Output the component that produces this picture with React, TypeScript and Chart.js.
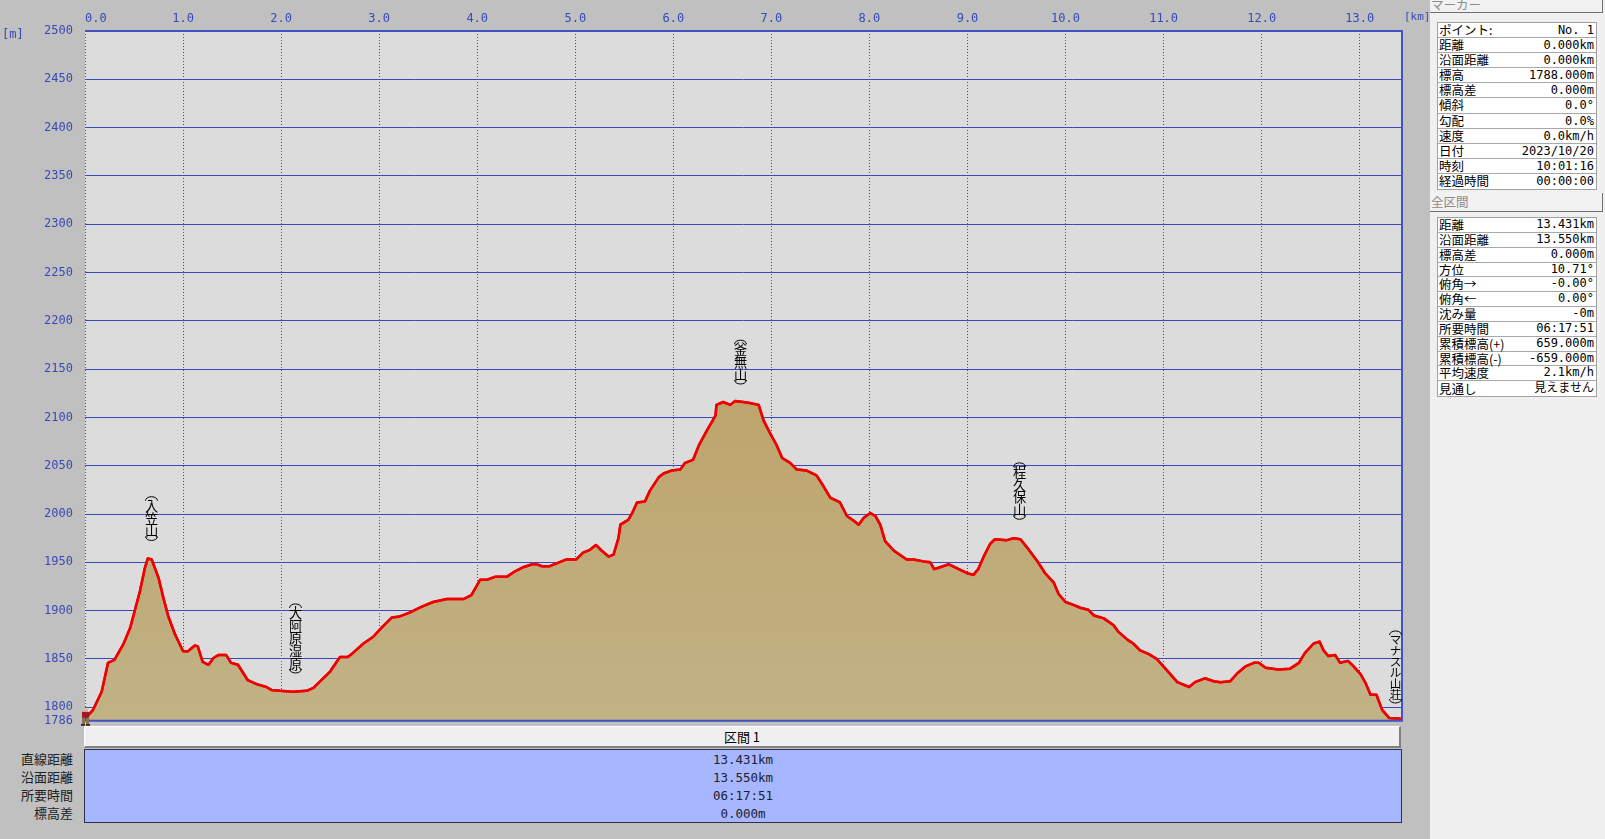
import React, { useEffect, useRef } from 'react';
import { Chart, registerables } from 'chart.js';

Chart.register(...registerables);

// ---- profile data (km, m) ----
const distanceKm = [
  0.0, 0.08, 0.17, 0.235, 0.3, 0.39, 0.46, 0.51, 0.56, 0.61, 0.64, 0.68, 0.75, 0.8, 0.85, 0.92,
  1.0, 1.05, 1.12, 1.15, 1.2, 1.26, 1.31, 1.36, 1.44, 1.49, 1.56, 1.66, 1.75, 1.85, 1.9, 1.99,
  2.12, 2.26, 2.33, 2.41, 2.5, 2.6, 2.68, 2.73, 2.84, 2.94, 3.02, 3.13, 3.21, 3.31, 3.43, 3.55,
  3.69, 3.86, 3.94, 3.98, 4.03, 4.1, 4.18, 4.3, 4.39, 4.47, 4.56, 4.61, 4.66, 4.74, 4.81, 4.91,
  5.01, 5.08, 5.15, 5.21, 5.27, 5.34, 5.39, 5.44, 5.46, 5.54, 5.58, 5.63, 5.71, 5.76, 5.85, 5.9,
  5.98, 6.07, 6.12, 6.2, 6.26, 6.34, 6.43, 6.44, 6.51, 6.58, 6.63, 6.71, 6.78, 6.87, 6.92, 6.99,
  7.05, 7.11, 7.19, 7.26, 7.36, 7.46, 7.53, 7.6, 7.7, 7.77, 7.84, 7.89, 7.94, 8.01, 8.06, 8.11,
  8.16, 8.25, 8.38, 8.45, 8.55, 8.62, 8.66, 8.72, 8.81, 8.89, 8.99, 9.06, 9.11, 9.17, 9.23, 9.28,
  9.4, 9.47, 9.54, 9.61, 9.72, 9.79, 9.88, 9.93, 10.0, 10.08, 10.15, 10.23, 10.29, 10.39, 10.49, 10.54,
  10.63, 10.69, 10.76, 10.85, 10.93, 11.0, 11.07, 11.14, 11.26, 11.32, 11.42, 11.51, 11.58, 11.68, 11.75, 11.83,
  11.92, 11.97, 12.04, 12.17, 12.29, 12.38, 12.44, 12.53, 12.59, 12.63, 12.68, 12.75, 12.8, 12.88, 12.94, 13.01,
  13.06, 13.11, 13.17, 13.23, 13.3, 13.431,
];
const elevationM = [
  1788, 1797, 1816, 1846, 1849, 1865, 1882, 1901, 1920, 1944, 1954, 1953, 1934, 1913, 1894, 1875,
  1858, 1858, 1864, 1863, 1847, 1844, 1851, 1854, 1854, 1846, 1844, 1828, 1824, 1821, 1818, 1817,
  1816, 1817, 1820, 1828, 1837, 1852, 1852, 1856, 1866, 1873, 1882, 1893, 1894, 1898, 1904, 1909,
  1912, 1912, 1916, 1923, 1932, 1932, 1935, 1935, 1941, 1945, 1948, 1948, 1946, 1946, 1949, 1953,
  1953, 1960, 1963, 1968, 1962, 1956, 1958, 1975, 1989, 1994, 2001, 2012, 2013, 2024, 2038, 2042,
  2045, 2046, 2053, 2056, 2071, 2086, 2102, 2113, 2116, 2113, 2117, 2116, 2115, 2113, 2097, 2083,
  2072, 2058, 2053, 2046, 2045, 2040, 2029, 2017, 2012, 1998, 1993, 1989, 1996, 2001, 1998, 1989,
  1972, 1962, 1953, 1953, 1951, 1950, 1943, 1945, 1948, 1944, 1939, 1937, 1943, 1957, 1969, 1974,
  1973, 1975, 1974, 1965, 1950, 1939, 1929, 1917, 1909, 1906, 1903, 1901, 1895, 1892, 1885, 1878,
  1870, 1866, 1859, 1855, 1850, 1842, 1834, 1826, 1821, 1826, 1830, 1827, 1826, 1827, 1835, 1842,
  1846, 1846, 1841, 1839, 1840, 1846, 1856, 1866, 1868, 1859, 1853, 1854, 1846, 1848, 1842, 1834,
  1825, 1813, 1813, 1797, 1789, 1788,
];

// ---- axes ----
const xTickValues = [0, 1, 2, 3, 4, 5, 6, 7, 8, 9, 10, 11, 12, 13];
const yTickValues = [1786, 1800, 1850, 1900, 1950, 2000, 2050, 2100, 2150, 2200, 2250, 2300, 2350, 2400, 2450, 2500];
const X_MAX = 13.431;
const Y_MIN = 1786;
const Y_MAX = 2500;

// ---- place labels ----
const placeNames = ['入笠山', '大阿原湿原', '釜無山', '程久保山', 'マナスル山荘'];
const placeKm = [0.676, 2.14, 6.68, 9.52, 13.36];
const placeTopM = [2019, 1908, 2181, 2054, 1880];

// ---- side panel ----
const markerLabels = ['ポイント:', '距離', '沿面距離', '標高', '標高差', '傾斜', '勾配', '速度', '日付', '時刻', '経過時間'];
const markerValues = ['No. 1', '0.000km', '0.000km', '1788.000m', '0.000m', '0.0°', '0.0%', '0.0km/h', '2023/10/20', '10:01:16', '00:00:00'];
const totalLabels = ['距離', '沿面距離', '標高差', '方位', '俯角→', '俯角←', '沈み量', '所要時間', '累積標高(+)', '累積標高(-)', '平均速度', '見通し'];
const totalValues = ['13.431km', '13.550km', '0.000m', '10.71°', '-0.00°', '0.00°', '-0m', '06:17:51', '659.000m', '-659.000m', '2.1km/h', '見えません'];

// ---- section table ----
const sectionTitle = '区間 1';
const sectionLabels = ['直線距離', '沿面距離', '所要時間', '標高差'];
const sectionValues = ['13.431km', '13.550km', '06:17:51', '0.000m'];

const BLUE = '#3a4ab8';
const MONO = '"DejaVu Sans Mono", "Noto Sans CJK JP", monospace';
const CJK = '"Noto Sans CJK JP", "DejaVu Sans", sans-serif';

const extrasPlugin = {
  id: 'profileExtras',
  beforeDraw(chart: any) {
    const { ctx, chartArea: a } = chart;
    ctx.save();
    ctx.fillStyle = '#dcdcdc';
    ctx.fillRect(a.left, a.top, a.right - a.left, a.bottom - a.top);
    ctx.restore();
  },
  afterDraw(chart: any) {
    const { ctx, chartArea: a, scales } = chart;
    const xs = scales.x;
    const ys = scales.y;
    // line on top of the grid
    const meta = chart.getDatasetMeta(0);
    ctx.save();
    ctx.beginPath();
    ctx.rect(a.left, a.top - 2, a.right - a.left, a.bottom - a.top + 2);
    ctx.clip();
    meta.dataset.draw(ctx, a);
    ctx.restore();

    // frame
    ctx.save();
    ctx.strokeStyle = '#4052c4';
    ctx.lineWidth = 2;
    ctx.beginPath();
    ctx.moveTo(a.left, a.top);
    ctx.lineTo(a.right, a.top);
    ctx.lineTo(a.right, a.bottom);
    ctx.lineTo(a.left, a.bottom);
    ctx.stroke();
    ctx.restore();

    // unit labels
    ctx.save();
    ctx.fillStyle = '#3848b8';
    ctx.textBaseline = 'middle';
    ctx.textAlign = 'left';
    ctx.font = '12px ' + MONO;
    ctx.fillText('[m]', 2, 35);
    ctx.font = '11px ' + MONO;
    ctx.fillText('[km]', a.right + 2, 17.5);
    ctx.restore();

    // vertical place labels
    ctx.save();
    ctx.fillStyle = '#000';
    ctx.strokeStyle = '#000';
    ctx.lineWidth = 1;
    ctx.textAlign = 'center';
    ctx.textBaseline = 'middle';
    placeNames.forEach((name, i) => {
      const chars = Array.from(name);
      const pitch = Math.min(12.6, 66 / chars.length);
      ctx.font = Math.min(13.5, pitch + 0.6).toFixed(1) + 'px ' + CJK;
      const cx = Math.round(xs.getPixelForValue(placeKm[i])) + 0.5;
      const top = ys.getPixelForValue(placeTopM[i]);
      ctx.beginPath();
      ctx.ellipse(cx, top + 5, 6, 4, 0, Math.PI, Math.PI * 2);
      ctx.stroke();
      chars.forEach((ch, j) => {
        ctx.fillText(ch, cx, top + 4 + pitch * (j + 0.5));
      });
      const endY = top + 4 + pitch * chars.length;
      ctx.beginPath();
      ctx.ellipse(cx, endY - 1, 6, 4, 0, 0, Math.PI);
      ctx.stroke();
    });
    ctx.restore();

    // hiker marker at start point
    const hx = xs.getPixelForValue(distanceKm[0]);
    const hy = ys.getPixelForValue(elevationM[0]);
    ctx.save();
    ctx.fillStyle = '#e8b090';
    ctx.fillRect(hx - 1, hy - 10, 4, 3);
    ctx.fillStyle = '#a01828';
    ctx.fillRect(hx - 3, hy - 7, 7, 6);
    ctx.fillStyle = '#8a7050';
    ctx.fillRect(hx - 3, hy - 1, 3, 6);
    ctx.fillRect(hx + 1, hy - 1, 3, 6);
    ctx.fillStyle = '#303030';
    ctx.fillRect(hx - 4, hy + 5, 4, 2);
    ctx.fillRect(hx + 1, hy + 5, 4, 2);
    ctx.restore();
  },
};

function InfoTable({ top, labels, values, rowH }: { top: number; labels: string[]; values: string[]; rowH: number }) {
  return (
    <div
      style={{
        position: 'absolute',
        left: 7,
        top,
        width: 160,
        background: '#ffffff',
        border: '1px solid #a0a0a0',
        boxSizing: 'border-box',
      }}
    >
      {labels.map((l, i) => (
        <div
          key={i}
          style={{
            height: rowH,
            borderBottom: i < labels.length - 1 ? '1px solid #a8a8a8' : 'none',
            boxSizing: 'border-box',
            display: 'flex',
            justifyContent: 'space-between',
            alignItems: 'center',
            padding: '0 2px 0 1px',
            color: '#000',
            whiteSpace: 'nowrap',
          }}
        >
          <span style={{ font: '12.5px ' + CJK, lineHeight: rowH - 1 + 'px' }}>{l}</span>
          <span style={{ font: '12px ' + MONO, lineHeight: rowH - 1 + 'px' }}>{values[i]}</span>
        </div>
      ))}
    </div>
  );
}

export default function App() {
  const canvasRef = useRef<HTMLCanvasElement | null>(null);

  useEffect(() => {
    const canvas = canvasRef.current;
    if (!canvas) return;
    const chart = new Chart(canvas, {
      type: 'line',
      data: {
        datasets: [
          {
            data: distanceKm.map((d, i) => ({ x: d, y: elevationM[i] })),
            borderColor: '#f00000',
            borderWidth: 2.5,
            borderJoinStyle: 'round',
            pointRadius: 0,
            tension: 0,
            fill: 'start',
            backgroundColor: (c: any) => {
              const ch = c.chart;
              const area = ch.chartArea;
              if (!area || !ch.scales.y) return '#c0ae80';
              const g = ch.ctx.createLinearGradient(0, ch.scales.y.getPixelForValue(2120), 0, area.bottom);
              g.addColorStop(0, '#bea46c');
              g.addColorStop(1, '#c1b286');
              return g;
            },
          },
        ],
      },
      options: {
        responsive: false,
        animation: false,
        layout: { padding: { left: 0, right: 28, top: 0, bottom: 17.4 } },
        plugins: {
          legend: { display: false },
          tooltip: { enabled: false },
        },
        scales: {
          x: {
            type: 'linear',
            position: 'top',
            min: 0,
            max: X_MAX,
            z: 1,
            afterBuildTicks: (s: any) => {
              s.ticks = xTickValues.map((v) => ({ value: v }));
            },
            afterFit: (s: any) => {
              s.height = 31;
            },
            grid: { color: BLUE, lineWidth: 1, drawTicks: false },
            border: { display: false, dash: [1, 2] },
            ticks: {
              autoSkip: false,
              maxRotation: 0,
              padding: 5,
              color: '#3848b8',
              font: { family: MONO, size: 12 },
              callback: (v: any) => (Number(v) === 0 ? '   0.0' : Number(v).toFixed(1)),
            },
          },
          y: {
            type: 'linear',
            min: Y_MIN,
            max: Y_MAX,
            z: 1,
            afterBuildTicks: (s: any) => {
              s.ticks = yTickValues.map((v) => ({ value: v }));
            },
            afterFit: (s: any) => {
              s.width = 85;
            },
            grid: {
              color: (c: any) => (c.tick && c.tick.value === Y_MIN ? 'rgba(0,0,0,0)' : BLUE),
              lineWidth: 1,
              drawTicks: false,
            },
            border: { display: false },
            ticks: {
              autoSkip: false,
              padding: 12,
              color: '#3848b8',
              font: { family: MONO, size: 12 },
              callback: (v: any) => String(v),
            },
          },
        },
      },
      plugins: [extrasPlugin],
    } as any);
    return () => chart.destroy();
  }, []);

  return (
    <div
      style={{
        position: 'fixed',
        left: 0,
        top: 0,
        width: 1605,
        height: 839,
        background: '#c0c0c0',
        overflow: 'hidden',
      }}
    >
      <canvas ref={canvasRef} width={1430} height={740} style={{ position: 'absolute', left: 0, top: 0, width: 1430, height: 740 }} />

      {/* section header bar */}
      <div
        style={{
          position: 'absolute',
          left: 84,
          top: 726,
          width: 1317,
          height: 22,
          boxSizing: 'border-box',
          background: '#f0f0f0',
          borderTop: '1px solid #ffffff',
          borderLeft: '1px solid #ffffff',
          borderRight: '2px solid #808080',
          borderBottom: '2px solid #808080',
          textAlign: 'center',
          font: '13px ' + CJK,
          lineHeight: '19px',
          color: '#000',
        }}
      >
        {sectionTitle}
      </div>

      {/* section values */}
      <div
        style={{
          position: 'absolute',
          left: 84,
          top: 749,
          width: 1318,
          height: 74,
          boxSizing: 'border-box',
          background: '#a6b6ff',
          border: '1px solid #303048',
          paddingTop: 2,
        }}
      >
        {sectionValues.map((v, i) => (
          <div key={i} style={{ height: 18, lineHeight: '18px', textAlign: 'center', font: '12.5px ' + MONO, color: '#202030' }}>
            {v}
          </div>
        ))}
      </div>
      <div style={{ position: 'absolute', left: 0, top: 749, width: 73 }}>
        {sectionLabels.map((l, i) => (
          <div key={i} style={{ height: 18, lineHeight: '18px', textAlign: 'right', font: '13px ' + CJK, color: '#202020' }}>
            {l}
          </div>
        ))}
      </div>

      {/* right panel */}
      <div style={{ position: 'absolute', left: 1430, top: 0, width: 175, height: 839, background: '#f0f0f0' }}>
        <div
          style={{
            position: 'absolute',
            left: 0,
            top: -2,
            width: 173,
            height: 15,
            boxSizing: 'border-box',
            borderRight: '1px solid #707070',
            borderBottom: '1px solid #707070',
            background: '#f2f2f2',
            color: '#8a8a8a',
            font: '12.5px ' + CJK,
            lineHeight: '14px',
            paddingLeft: 1,
          }}
        >
          マーカー
        </div>
        <InfoTable top={22} labels={markerLabels} values={markerValues} rowH={15.1} />
        <div
          style={{
            position: 'absolute',
            left: 0,
            top: 193,
            width: 173,
            height: 19,
            boxSizing: 'border-box',
            borderRight: '1px solid #707070',
            borderBottom: '1px solid #707070',
            background: '#f2f2f2',
            color: '#8a8a8a',
            font: '12.5px ' + CJK,
            lineHeight: '18px',
            paddingLeft: 1,
          }}
        >
          全区間
        </div>
        <InfoTable top={217} labels={totalLabels} values={totalValues} rowH={14.85} />
      </div>
    </div>
  );
}
